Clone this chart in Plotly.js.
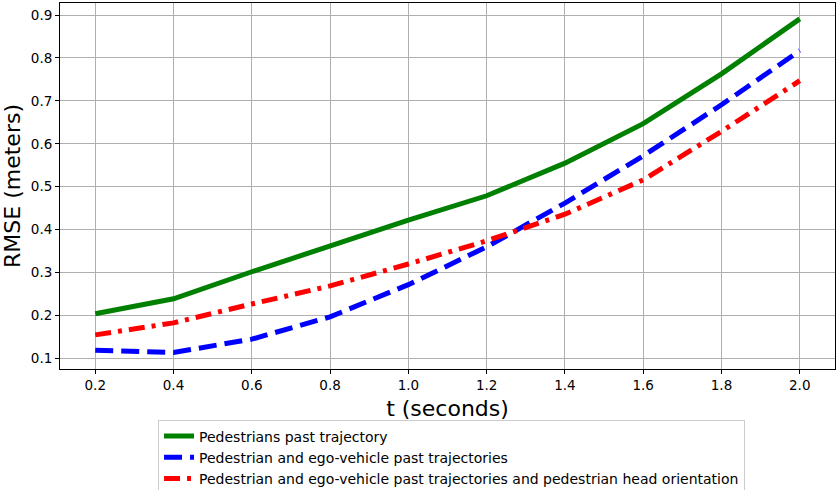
<!DOCTYPE html>
<html><head><meta charset="utf-8">
<script src="https://cdn.plot.ly/plotly-3.0.1.min.js"></script>
<style>body{margin:0;padding:0;background:#fff}#chart{width:838px;height:490px}</style>
</head><body><div id="chart"></div>
<script>
var tSeconds = [0.2, 0.4, 0.6, 0.8, 1.0, 1.2, 1.4, 1.6, 1.8, 2.0];
var tTickLabels = ["0.2","0.4","0.6","0.8","1.0","1.2","1.4","1.6","1.8","2.0"];
var pedestrianPast = [0.204, 0.239, 0.302, 0.363, 0.422, 0.479, 0.555, 0.647, 0.763, 0.891];
var pedEgoPast = [0.119, 0.114, 0.145, 0.197, 0.272, 0.360, 0.462, 0.572, 0.691, 0.817];
var pedEgoHead = [0.155, 0.183, 0.227, 0.269, 0.320, 0.374, 0.436, 0.516, 0.629, 0.747];
var seriesNames = ["Pedestrians past trajectory", "Pedestrian and ego-vehicle past trajectories", "Pedestrian and ego-vehicle past trajectories and pedestrian head orientation"];

var traces = [
  {x: tSeconds, y: pedestrianPast, name: seriesNames[0], mode: "lines", line: {color: "green", width: 5}},
  {x: tSeconds, y: pedEgoPast, name: seriesNames[1], mode: "lines", line: {color: "blue", width: 5, dash: "18px,8px"}},
  {x: tSeconds, y: pedEgoHead, name: seriesNames[2], mode: "lines", line: {color: "red", width: 5, dash: "16px,7px,4px,7px"}}
];
var font = "DejaVu Sans, sans-serif";
var layout = {
  width: 838, height: 490,
  margin: {l: 60, r: 3, t: 3, b: 121, autoexpand: false},
  paper_bgcolor: "white", plot_bgcolor: "white",
  font: {family: font, size: 14, color: "black"},
  showlegend: true,
  xaxis: {
    range: [0.11, 2.09], tickvals: tSeconds, ticktext: tTickLabels,
    showgrid: true, gridcolor: "#b0b0b0", gridwidth: 1,
    showline: true, linecolor: "black", linewidth: 1, mirror: true,
    ticks: "outside", ticklen: 4, tickcolor: "black", zeroline: false,
    tickfont: {size: 13.5},
    title: {text: "t (seconds)", font: {size: 22}, standoff: 8}
  },
  yaxis: {
    range: [0.0755, 0.928], tickvals: [0.1,0.2,0.3,0.4,0.5,0.6,0.7,0.8,0.9],
    ticktext: ["0.1","0.2","0.3","0.4","0.5","0.6","0.7","0.8","0.9"],
    showgrid: true, gridcolor: "#b0b0b0", gridwidth: 1,
    showline: true, linecolor: "black", linewidth: 1, mirror: true,
    ticks: "outside", ticklen: 4, tickcolor: "black", zeroline: false,
    tickfont: {size: 13.5},
    title: {text: "RMSE (meters)", font: {size: 22}, standoff: 8}
  },
  legend: {
    x: 0.1265, y: -0.138, xanchor: "left", yanchor: "top",
    bgcolor: "white", bordercolor: "#cccccc", borderwidth: 1,
    font: {size: 14}, tracegroupgap: 0
  }
};
Plotly.newPlot("chart", traces, layout, {displayModeBar: false, staticPlot: true});
</script></body></html>
